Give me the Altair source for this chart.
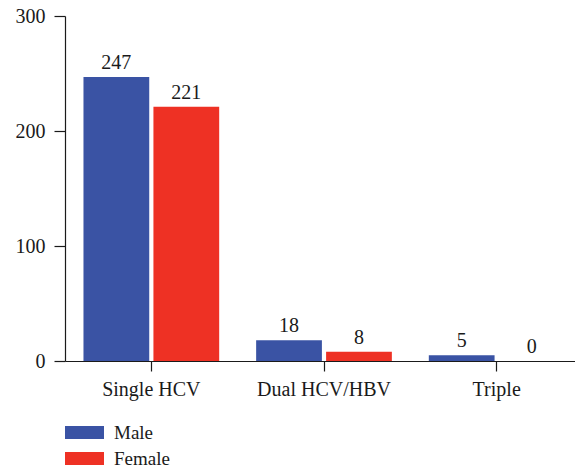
import altair as alt
import pandas as pd

categories = ["Single HCV", "Dual HCV/HBV", "Triple"]
groups = ["Male", "Female"]
male_values = [247, 18, 5]
female_values = [221, 8, 0]
colors = ["#3A53A4", "#EE3124"]
y_ticks = [0, 100, 200, 300]

rows = []
for c, m, f in zip(categories, male_values, female_values):
    rows.append({"category": c, "sex": "Male", "value": m})
    rows.append({"category": c, "sex": "Female", "value": f})
df = pd.DataFrame(rows)

FONT = "Liberation Serif"
INK = "#1a1a1a"

x = alt.X("category:N", sort=categories, title=None,
          scale=alt.Scale(paddingInner=0.214, paddingOuter=0.107, range=[0, 518]),
          axis=alt.Axis(labelAngle=0, labelFont=FONT, labelFontSize=20, labelColor=INK,
                        domainColor=INK, tickColor=INK, tickSize=10,
                        labelPadding=8, domainWidth=1.2, tickWidth=1.2))
xo = alt.XOffset("sex:N", sort=groups, scale=alt.Scale(paddingInner=0.06, paddingOuter=0))
y = alt.Y("value:Q", title=None,
          scale=alt.Scale(domain=[0, 300], nice=False),
          axis=alt.Axis(values=y_ticks, grid=False, labelFont=FONT, labelFontSize=20,
                        labelColor=INK, domainColor=INK, tickColor=INK,
                        tickSize=11, labelPadding=9, domainWidth=1.2, tickWidth=1.2))

bars = alt.Chart(df).mark_bar().encode(
    x=x, xOffset=xo, y=y,
    color=alt.Color("sex:N", sort=groups,
                    scale=alt.Scale(domain=groups, range=colors),
                    legend=alt.Legend(title=None, orient="none", legendX=10, legendY=407,
                                      symbolType="M-3,-1H3V1H-3Z", symbolSize=169,
                                      symbolStrokeWidth=0, symbolOpacity=1,
                                      labelFont=FONT, labelFontSize=19, labelColor=INK,
                                      labelOffset=20, rowPadding=6)),
)

labels = alt.Chart(df).mark_text(baseline="bottom", dy=-4, font=FONT, fontSize=20,
                                 color=INK).encode(
    x=x, xOffset=xo, y=y, text=alt.Text("value:Q"),
)

chart = alt.layer(bars, labels).properties(
    width=510, height=345,
    autosize=alt.AutoSizeParams(type="none"),
    padding={"left": 57, "top": 8, "right": 0, "bottom": 109},
).configure_view(stroke=None)

chart.save("out.html", embed_options={"renderer": "svg", "actions": False})
